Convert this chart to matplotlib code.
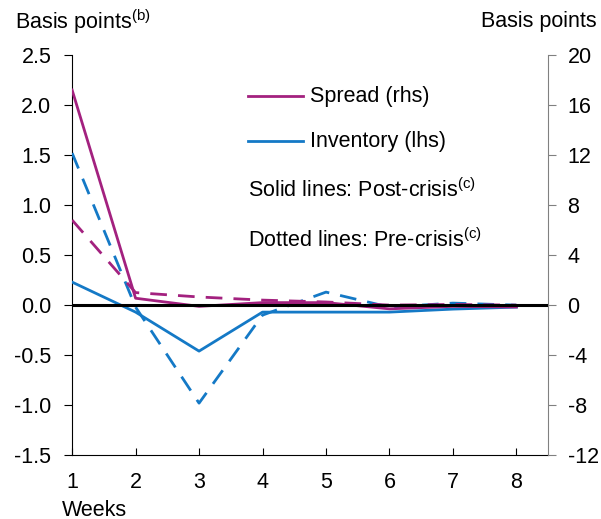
import matplotlib
matplotlib.use("Agg")
import matplotlib.pyplot as plt

plt.rcParams['font.family'] = ['Liberation Sans', 'DejaVu Sans']
plt.rcParams['mathtext.fontset'] = 'custom'
plt.rcParams['mathtext.rm'] = 'Liberation Sans'

# Данные
weeks = [1, 2, 3, 4, 5, 6, 7, 8]
spread_post = [17.2, 0.55, -0.1, 0.2, 0.2, -0.3, -0.1, -0.15]   # rhs
spread_pre = [6.8, 1.0, 0.65, 0.4, 0.25, 0.0, 0.05, 0.0]        # rhs
inventory_post = [0.23, -0.07, -0.46, -0.07, -0.07, -0.07, -0.04, -0.02]  # lhs
inventory_pre = [1.52, -0.02, -0.98, -0.1, 0.13, -0.02, 0.02, 0.0]        # lhs

left_ticks = [-1.5, -1.0, -0.5, 0.0, 0.5, 1.0, 1.5, 2.0, 2.5]
right_ticks = [-12, -8, -4, 0, 4, 8, 12, 16, 20]

purple = '#a3217f'
blue = '#1479c6'
fs = 15.5

fig = plt.figure(figsize=(6.01, 5.19), dpi=100)
ax = fig.add_axes([0.12, 0.123, 0.792, 0.771])
ax2 = ax.twinx()

ax.plot(weeks, inventory_post, color=blue, lw=2, zorder=3)
ax.plot(weeks, inventory_pre, color=blue, lw=2, dashes=(6, 4), zorder=3)
ax2.plot(weeks, spread_post, color=purple, lw=2, zorder=3)
ax2.plot(weeks, spread_pre, color=purple, lw=2, dashes=(6, 4), zorder=3)
ax2.axhline(0, color='black', lw=2.2, zorder=4)

ax.set_xlim(1, 8.5)
ax.set_ylim(-1.5, 2.5)
ax2.set_ylim(-12, 20)
ax.set_xticks(weeks)
ax.set_yticks(left_ticks)
ax.set_yticklabels([f'{v:.1f}' for v in left_ticks])
ax2.set_yticks(right_ticks)
ax2.set_yticklabels([str(v) for v in right_ticks])

for a in (ax, ax2):
    a.spines['top'].set_visible(False)
ax.spines['right'].set_visible(False)
ax2.spines['left'].set_visible(False)
ax2.spines['bottom'].set_visible(False)
ax2.spines['right'].set_color('#808080')
ax.tick_params(axis='x', direction='in', length=5, labelsize=fs, pad=12)
ax.tick_params(axis='y', direction='out', length=6, labelsize=fs, pad=9)
ax2.tick_params(axis='y', direction='out', length=6, labelsize=fs, pad=8, color='#808080')

# Легенда вручную
ax.plot([0.37, 0.485], [0.8975, 0.8975], color=purple, lw=2, transform=ax.transAxes)
ax.plot([0.37, 0.485], [0.785, 0.785], color=blue, lw=2, transform=ax.transAxes)
ax.text(0.5, 0.8975, 'Spread (rhs)', transform=ax.transAxes, fontsize=fs, va='center')
ax.text(0.5, 0.785, 'Inventory (lhs)', transform=ax.transAxes, fontsize=fs, va='center')
ax.text(0.37, 0.6625, r'Solid lines: Post-crisis$^{\rm (c)}$', transform=ax.transAxes, fontsize=fs, va='center')
ax.text(0.37, 0.5375, r'Dotted lines: Pre-crisis$^{\rm (c)}$', transform=ax.transAxes, fontsize=fs, va='center')

fig.text(15 / 601, 1 - 22 / 519, r'Basis points$^{\rm (b)}$', fontsize=fs, va='center', ha='left')
fig.text(597 / 601, 1 - 22 / 519, 'Basis points', fontsize=fs, va='center', ha='right')
fig.text(62 / 601, 1 - 510 / 519, 'Weeks', fontsize=fs, va='center', ha='left')

fig.savefig('out.png', dpi=100)
